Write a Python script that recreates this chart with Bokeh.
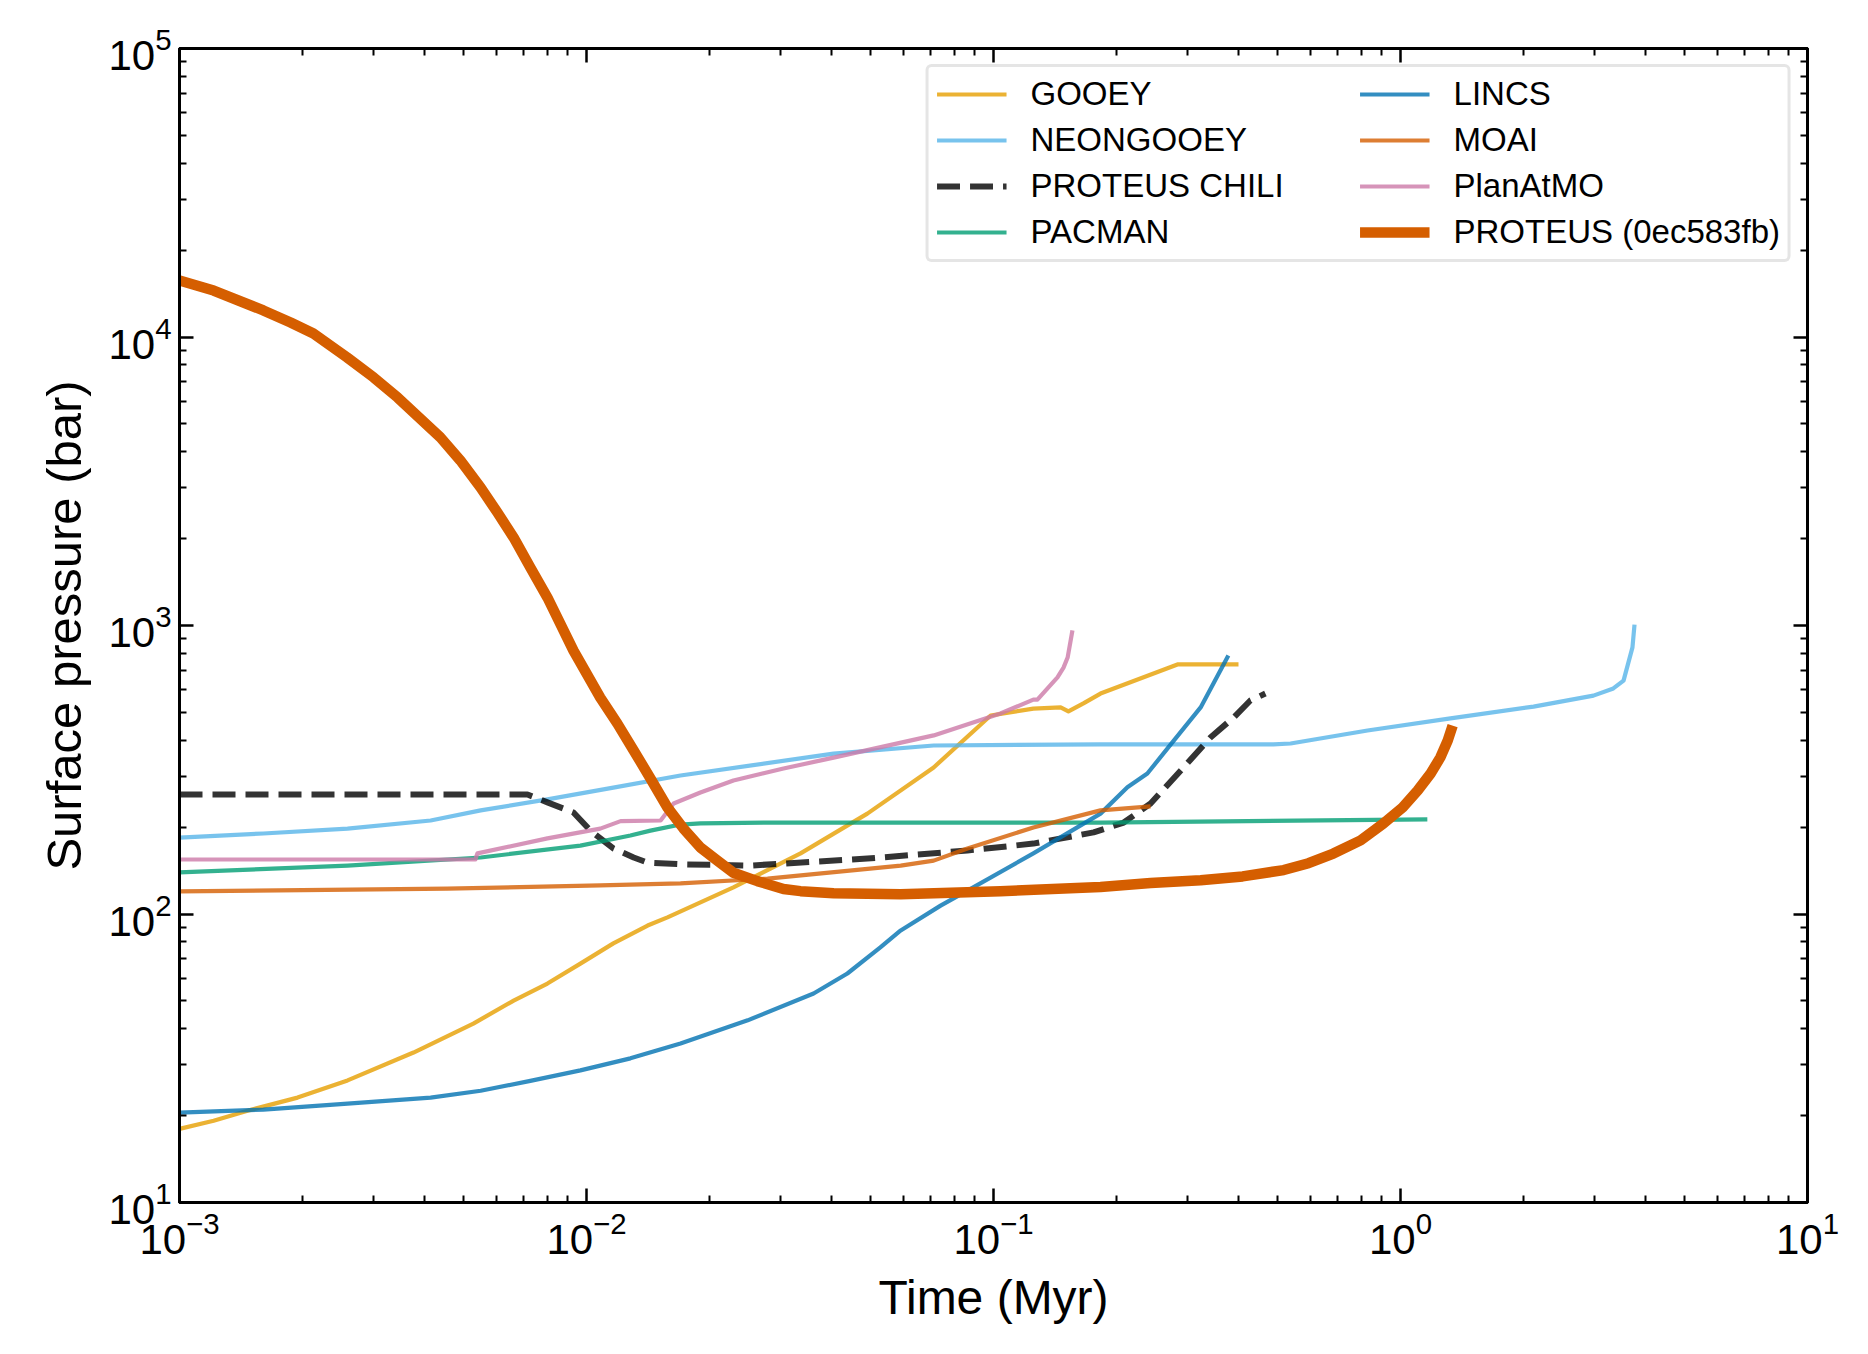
from bokeh.plotting import figure
from bokeh.models import FixedTicker, LogAxis, Legend, LegendItem, Range1d, CustomJSTickFormatter
from bokeh.embed import file_html
from bokeh.resources import INLINE

# ---------------- data (time in Myr, surface pressure in bar) ----------------
gooey_t = [0.001, 0.001213, 0.001469, 0.001950, 0.002588, 0.003758, 0.005272, 0.006622, 0.008017,
           0.009661, 0.01164, 0.01413, 0.01581, 0.02296, 0.03357,
           0.04898, 0.07129, 0.09840, 0.1253, 0.1462, 0.1528, 0.1663, 0.1832, 0.2831, 0.3999]
gooey_p = [18.0, 19.2, 20.8, 23.1, 26.5, 33.1, 41.7, 50.1, 57.4,
           67.3, 79.1, 91.2, 97.3, 123.6, 162.2,
           222.8, 322.1, 487.5, 515.2, 520.0, 503.5, 537.0, 580.8, 732.8, 732.8]

neon_t = [0.001, 0.001607, 0.002588, 0.004140, 0.005495, 0.008017, 0.01164, 0.01702, 0.04046,
          0.07129, 0.1832, 0.4875, 0.5370, 0.8299, 1.327, 2.123, 2.979, 3.334, 3.532, 3.715, 3.758]
neon_p = [184.1, 190.1, 197.7, 210.9, 228.6, 249.5, 274.2, 302.0, 359.7,
          383.7, 387.3, 387.3, 389.9, 432.5, 476.4, 523.6, 571.5, 605.3, 644.2, 839.5, 1007.0]

chili_t = [0.001, 0.007161, 0.008017, 0.009290, 0.01023, 0.01164, 0.01306, 0.01413, 0.01730,
           0.02529, 0.04898, 0.08630, 0.1253, 0.1762, 0.2089, 0.2432, 0.2931, 0.3412, 0.3890,
           0.4276, 0.4656]
chili_p = [259.4, 259.4, 243.8, 224.9, 194.5, 168.7, 157.0, 150.7, 148.6,
           147.2, 155.6, 166.0, 175.4, 191.9, 207.5, 241.5, 322.1, 409.3, 479.7,
           549.5, 580.8]

pacman_t = [0.001, 0.002588, 0.005495, 0.009661, 0.01282, 0.01436, 0.01702, 0.01905, 0.02786,
            0.1832, 1.164]
pacman_p = [139.3, 147.2, 157.0, 172.6, 187.1, 194.5, 204.2, 206.1, 207.5,
            207.5, 212.8]

lincs_t = [0.001, 0.001607, 0.002588, 0.004140, 0.005495, 0.007278, 0.009661, 0.01282, 0.01702,
           0.02489, 0.03614, 0.04375, 0.05272, 0.05916, 0.07413, 0.08630, 0.1253, 0.1832, 0.2133,
           0.2388, 0.2773, 0.3228, 0.3776]
lincs_p = [20.5, 21.0, 22.0, 23.1, 24.4, 26.4, 28.7, 31.6, 35.6,
           42.8, 53.0, 62.2, 76.6, 87.7, 106.9, 120.5, 162.2, 222.8, 274.8,
           306.9, 398.9, 520.0, 787.0]

moai_t = [0.001, 0.004550, 0.01081, 0.01702, 0.02786, 0.05916, 0.07129, 0.08630, 0.1253,
          0.1832, 0.2432]
moai_p = [119.7, 122.5, 125.6, 127.6, 132.7, 147.2, 153.1, 168.7, 199.5,
          228.6, 236.0]

planatmo_t = [0.001, 0.005333, 0.005395, 0.008017, 0.01081, 0.01213, 0.01521, 0.01637, 0.01905,
              0.02296, 0.03048, 0.04046, 0.07129, 0.1040, 0.1253, 0.1282, 0.1436, 0.1486, 0.1521,
              0.1563]
planatmo_p = [154.5, 154.5, 162.2, 182.8, 197.7, 209.9, 210.9, 241.5, 263.6,
              290.4, 319.2, 348.3, 415.9, 495.5, 553.4, 553.4, 660.7, 714.5, 774.5,
              961.6]

proteus_t = [0.001, 0.001213, 0.001607, 0.001875, 0.002133, 0.002582, 0.002999, 0.003436, 0.004375,
             0.004898, 0.005495, 0.006039, 0.006622, 0.007278, 0.008017, 0.009290, 0.01081, 0.01191,
             0.01306, 0.01436, 0.01581, 0.01730, 0.01905, 0.02099, 0.02296, 0.02630, 0.03048,
             0.03357, 0.04046, 0.05916, 0.1040, 0.1832, 0.2432, 0.3228, 0.4093, 0.5164, 0.5943,
             0.6839, 0.7980, 0.9078, 1.012, 1.102, 1.186, 1.253, 1.306, 1.343]
proteus_p = [15700, 14490, 12360, 11220, 10280, 8492, 7244, 6166, 4487,
             3733, 3006, 2466, 2018, 1589, 1250, 818, 562, 457,
             369, 295, 234, 198, 170, 153, 139, 130, 122,
             120, 118, 117, 120, 124, 128, 131, 135, 142, 150,
             162, 180, 206, 234, 268, 307, 349, 399, 450]

x_major = [1e-3, 1e-2, 1e-1, 1.0, 10.0]
y_major = [1e1, 1e2, 1e3, 1e4, 1e5]
mantissas = [2, 3, 4, 5, 6, 7, 8, 9]
x_minor = [m * d for d in x_major[:-1] for m in mantissas]
y_minor = [m * d for d in y_major[:-1] for m in mantissas]

FONT = "Liberation Sans"

p = figure(width=1868, height=1354, x_axis_type="log", y_axis_type="log",
           x_range=Range1d(1e-3, 10), y_range=Range1d(10, 1e5),
           output_backend="svg", toolbar_location=None,
           min_border_left=179, min_border_right=61, min_border_top=48, min_border_bottom=152)
p.background_fill_color = "white"
p.border_fill_color = "white"
p.outline_line_color = "black"
p.outline_line_width = 3
p.grid.visible = False


def style_axis(ax, major, minor, show_labels=True):
    ax.ticker = FixedTicker(ticks=major, minor_ticks=minor)
    ax.major_tick_in = 14
    ax.major_tick_out = 0
    ax.minor_tick_in = 7
    ax.minor_tick_out = 0
    ax.major_tick_line_width = 2.5
    ax.minor_tick_line_width = 2
    ax.major_tick_line_color = "black"
    ax.minor_tick_line_color = "black"
    ax.axis_line_color = "black"
    ax.axis_line_width = 3
    ax.major_label_text_font = FONT
    ax.major_label_text_font_size = "42px"
    ax.major_label_text_color = "black"
    ax.major_label_standoff = 8
    ax.axis_label_text_font = FONT
    ax.axis_label_text_font_size = "48px"
    ax.axis_label_text_font_style = "normal"
    ax.axis_label_text_color = "black"
    ax.axis_label_standoff = 14
    if not show_labels:
        ax.formatter = CustomJSTickFormatter(code="return ''")


style_axis(p.xaxis[0], x_major, x_minor)
style_axis(p.yaxis[0], y_major, y_minor)
p.xaxis[0].axis_label = "Time (Myr)"
p.yaxis[0].axis_label = "Surface pressure (bar)"
p.yaxis[0].axis_label_text_font_size = "49px"

top_ax = LogAxis()
style_axis(top_ax, x_major, x_minor, show_labels=False)
p.add_layout(top_ax, "above")
right_ax = LogAxis()
style_axis(right_ax, y_major, y_minor, show_labels=False)
p.add_layout(right_ax, "right")

series = [
    ("GOOEY", gooey_t, gooey_p, "#E69F00", 4.2, 0.8, "solid"),
    ("NEONGOOEY", neon_t, neon_p, "#56B4E9", 4.2, 0.8, "solid"),
    ("PROTEUS CHILI", chili_t, chili_p, "black", 6, 0.8, "23 10"),
    ("PACMAN", pacman_t, pacman_p, "#009E73", 4.2, 0.8, "solid"),
    ("LINCS", lincs_t, lincs_p, "#0072B2", 4.2, 0.8, "solid"),
    ("MOAI", moai_t, moai_p, "#D55E00", 4.2, 0.8, "solid"),
    ("PlanAtMO", planatmo_t, planatmo_p, "#CC79A7", 4.2, 0.8, "solid"),
    ("PROTEUS (0ec583fb)", proteus_t, proteus_p, "#D55E00", 10.5, 1.0, "solid"),
]

items = []
for name, t, pr, col, lw, al, dash in series:
    r = p.line(t, pr, line_color=col, line_width=lw, line_alpha=al, line_dash=dash,
               line_join="round")
    items.append(LegendItem(label=name, renderers=[r]))

legend = Legend(items=items, location="top_right", ncols=2)
legend.label_text_font = FONT
legend.label_text_font_size = "33px"
legend.label_text_color = "black"
legend.glyph_width = 70
legend.glyph_height = 30
legend.label_height = 30
legend.label_width = 321
legend.label_standoff = 24
legend.spacing = 8
legend.padding = 8
legend.margin = 16
legend.border_line_color = "#cccccc"
legend.border_line_width = 3
legend.background_fill_color = "white"
legend.background_fill_alpha = 0.9
if "border_radius" in Legend.properties():
    legend.border_radius = 6
p.add_layout(legend)

open("out.html", "w").write(file_html(p, INLINE))
